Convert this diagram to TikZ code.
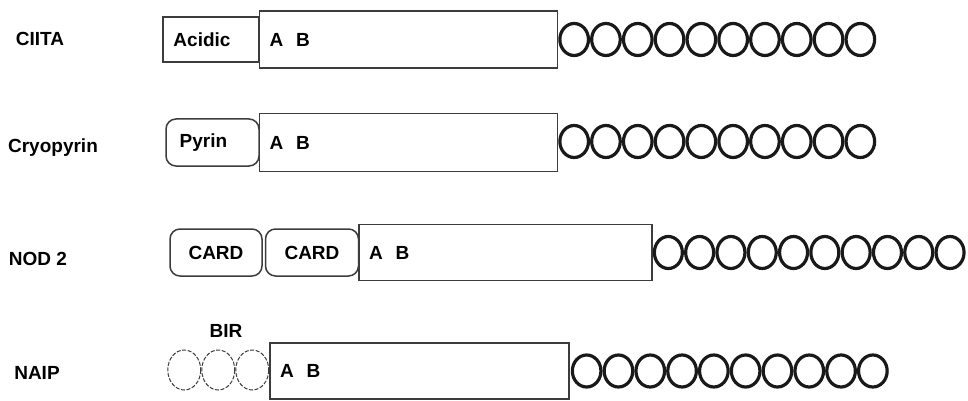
\documentclass[tikz,border=0pt]{standalone}
\usepackage{fontspec}
\setmainfont{Liberation Sans}
\usepackage{xcolor}
\definecolor{outline}{RGB}{60,60,60}
\definecolor{lrrline}{RGB}{25,25,25}
\usepackage{tikz}
\usetikzlibrary{positioning,calc}
\tikzset{
  protein/.style={font=\fontsize{9.5}{11}\selectfont\bfseries,inner sep=0pt},
  dombox/.style={draw=outline,line width=0.75pt,fill=white,%
    minimum width=46.5pt,minimum height=23.5pt,inner sep=0pt,%
    font=\fontsize{9.5}{11}\selectfont\bfseries},
  nacht/.style={draw=outline,line width=0.75pt,fill=white,%
    minimum height=28.5pt,inner xsep=5pt,inner ysep=0pt,align=left,%
    font=\fontsize{9.5}{11}\selectfont\bfseries},
  lrr/.style={draw=lrrline,line width=1.6pt},
  birrep/.style={draw=outline,line width=0.5pt,dash pattern=on 2pt off 0.8pt},
}
\newcommand{\AB}{A\hspace{6.5pt}B}

\begin{document}
\begin{tikzpicture}[x=0.5pt,y=-0.5pt]
\useasboundingbox (0,0) rectangle (968,401);

% CIITA
\node[protein] (ciita) at (40,39) {CIITA};
\node[dombox,minimum width=48pt,minimum height=22.5pt] (acidic) at (211,39.5) {Acidic\rule{9pt}{0pt}};
\node[nacht,text width=139pt,right=-0.5pt of acidic] (ab1) {\AB};
\foreach \i in {0,...,9}
  \draw[lrr] ($(ab1.east)+(15.9+31.8*\i,0)$) ellipse [x radius=14.3, y radius=16];

% Cryopyrin
\node[protein] (cryo) at (53,148) {Cryopyrin};
\node[dombox,rounded corners=5pt] (pyrin) at (212.5,142.5) {Pyrin\rule{9pt}{0pt}};
\node[nacht,text width=139pt,minimum height=29pt,right=-0.5pt of pyrin] (ab2) {\AB};
\foreach \i in {0,...,9}
  \draw[lrr] ($(ab2.east)+(15.9+31.8*\i,-1)$) ellipse [x radius=14.3, y radius=16];

% NOD 2
\node[protein] (nod) at (38,259) {NOD 2};
\node[dombox,rounded corners=5pt,minimum width=46pt] (card1) at (216,252.5) {CARD};
\node[dombox,rounded corners=5pt,right=1pt of card1] (card2) {CARD};
\node[nacht,text width=136.5pt,minimum height=28pt,right=-0.5pt of card2] (ab3) {\AB};
\foreach \i in {0,...,9}
  \draw[lrr] ($(ab3.east)+(15.6+31.3*\i,0)$) ellipse [x radius=14, y radius=16];

% NAIP
\node[protein] (naip) at (37,373) {NAIP};
\node[nacht,text width=139.5pt,minimum height=28pt] (ab4) at (419.5,371) {\AB};
\foreach \i in {0,1,2}
  \draw[birrep] ($(ab4.west)+(-17-34*\i,-1)$) ellipse [x radius=16.5, y radius=20];
\node[protein] (bir) at (226,331) {BIR};
\foreach \i in {0,...,9}
  \draw[lrr] ($(ab4.east)+(16.9+31.8*\i,0)$) ellipse [x radius=14.3, y radius=16];
\end{tikzpicture}
\end{document}
